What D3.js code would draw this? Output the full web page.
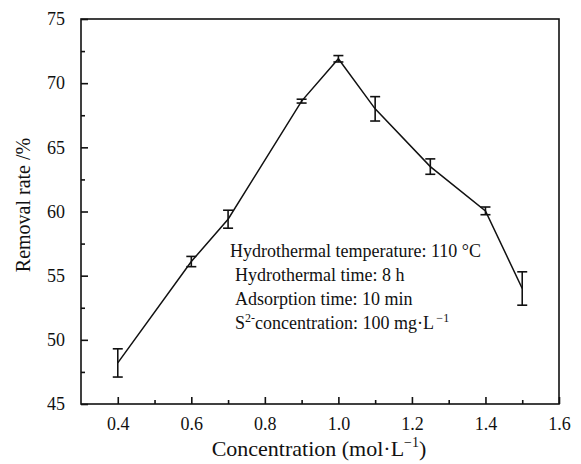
<!DOCTYPE html>
<html>
<head>
<meta charset="utf-8">
<script src="https://cdn.jsdelivr.net/npm/d3@7"></script>
<style>
  html, body { margin: 0; padding: 0; background: #fff; }
  svg { display: block; }
  svg text { font-family: "Liberation Serif", "Times New Roman", serif !important; fill: #111; }
</style>
</head>
<body>
<svg id="chart" width="581" height="464"></svg>
<script>
// ---- data ----
const concentration = [0.4, 0.6, 0.7, 0.9, 1.0, 1.1, 1.25, 1.4, 1.5];
const removalRate   = [48.2, 56.1, 59.4, 68.6, 71.9, 68.0, 63.5, 60.05, 54.0];
const errorValues   = [1.1, 0.4, 0.7, 0.15, 0.25, 0.95, 0.6, 0.3, 1.3];
const xTicks = [0.4, 0.6, 0.8, 1.0, 1.2, 1.4, 1.6];
const xMinorTicks = [0.5, 0.7, 0.9, 1.1, 1.3, 1.5];
const yTicks = [45, 50, 55, 60, 65, 70, 75];
const yMinorTicks = [47.5, 52.5, 57.5, 62.5, 67.5, 72.5];
const conditionLines = [
  "Hydrothermal temperature: 110 °C",
  "Hydrothermal time: 8 h",
  "Adsorption time: 10 min",
  "concentration: 100 mg·L"
];

const FONT = "'Liberation Serif', 'Times New Roman', serif";
const svg = d3.select("#chart");
const margin = { left: 81, top: 19, right: 22, bottom: 60 };
const W = 581, H = 464;
const x = d3.scaleLinear().domain([0.3, 1.6]).range([margin.left, W - margin.right]);
const y = d3.scaleLinear().domain([45, 75]).range([H - margin.bottom, margin.top]);

const axisColor = "#111";

// frame
svg.append("rect")
  .attr("x", x(0.3)).attr("y", y(75))
  .attr("width", x(1.6) - x(0.3)).attr("height", y(45) - y(75))
  .attr("fill", "none").attr("stroke", axisColor).attr("stroke-width", 1.6);

// axes with inward ticks
const xAxis = d3.axisBottom(x).tickValues(xTicks).tickFormat(d3.format(".1f"))
  .tickSizeInner(-7).tickSizeOuter(0).tickPadding(13);
const gx = svg.append("g").attr("transform", `translate(0,${y(45)})`).call(xAxis)
  .attr("font-family", FONT);
gx.select(".domain").remove();
gx.selectAll("line").attr("stroke", axisColor).attr("stroke-width", 1.6);
gx.selectAll("text").style("font-size", "18px").style("font-family", FONT).attr("fill", "#111");

const xMinor = d3.axisBottom(x).tickValues(xMinorTicks).tickFormat("")
  .tickSizeInner(-4).tickSizeOuter(0);
const gxm = svg.append("g").attr("transform", `translate(0,${y(45)})`).call(xMinor);
gxm.select(".domain").remove();
gxm.selectAll("line").attr("stroke", axisColor).attr("stroke-width", 1.6);

const yAxis = d3.axisLeft(y).tickValues(yTicks).tickFormat(d3.format("d"))
  .tickSizeInner(-7).tickSizeOuter(0).tickPadding(16);
const gy = svg.append("g").attr("transform", `translate(${x(0.3)},0)`).call(yAxis)
  .attr("font-family", FONT);
gy.select(".domain").remove();
gy.selectAll("line").attr("stroke", axisColor).attr("stroke-width", 1.6);
gy.selectAll("text").style("font-size", "18px").style("font-family", FONT).attr("fill", "#111");

const yMinor = d3.axisLeft(y).tickValues(yMinorTicks).tickFormat("")
  .tickSizeInner(-4).tickSizeOuter(0);
const gym = svg.append("g").attr("transform", `translate(${x(0.3)},0)`).call(yMinor);
gym.select(".domain").remove();
gym.selectAll("line").attr("stroke", axisColor).attr("stroke-width", 1.6);

// data line
const pts = concentration.map((c, i) => ({ c, v: removalRate[i], e: errorValues[i] }));
svg.append("path").datum(pts)
  .attr("fill", "none").attr("stroke", "#111").attr("stroke-width", 1.5)
  .attr("d", d3.line().x(d => x(d.c)).y(d => y(d.v)));

// error bars
const cap = 5;
const eb = svg.append("g").attr("stroke", "#111").attr("stroke-width", 1.6);
pts.forEach(d => {
  eb.append("line").attr("x1", x(d.c)).attr("x2", x(d.c))
    .attr("y1", y(d.v + d.e)).attr("y2", y(d.v - d.e));
  eb.append("line").attr("x1", x(d.c) - cap).attr("x2", x(d.c) + cap)
    .attr("y1", y(d.v + d.e)).attr("y2", y(d.v + d.e));
  eb.append("line").attr("x1", x(d.c) - cap).attr("x2", x(d.c) + cap)
    .attr("y1", y(d.v - d.e)).attr("y2", y(d.v - d.e));
});

// annotation text
const fs = 18;
svg.append("text").attr("x", 230).attr("y", 257).style("font-size", fs + "px")
  .text(conditionLines[0]);
svg.append("text").attr("x", 235).attr("y", 281).style("font-size", fs + "px")
  .text(conditionLines[1]);
svg.append("text").attr("x", 235).attr("y", 305).style("font-size", fs + "px")
  .text(conditionLines[2]);
const t4 = svg.append("text").attr("x", 235).attr("y", 329).style("font-size", fs + "px");
t4.append("tspan").text("S");
t4.append("tspan").attr("dy", -7).style("font-size", "12px").text("2-");
t4.append("tspan").attr("dy", 7).text(conditionLines[3]);
t4.append("tspan").attr("dy", -7).style("font-size", "12px").text("\u2009\u22121");

// axis titles
const xt = svg.append("text").attr("x", 319).attr("y", 456)
  .attr("text-anchor", "middle").style("font-size", "22px");
xt.append("tspan").text("Concentration (mol·L");
xt.append("tspan").attr("dy", -9).style("font-size", "14px").text("\u22121");
xt.append("tspan").attr("dy", 9).text(")");

svg.append("text")
  .attr("transform", `translate(30,205) rotate(-90)`)
  .attr("text-anchor", "middle").style("font-size", "20px")
  .text("Removal rate /%");
</script>
</body>
</html>
